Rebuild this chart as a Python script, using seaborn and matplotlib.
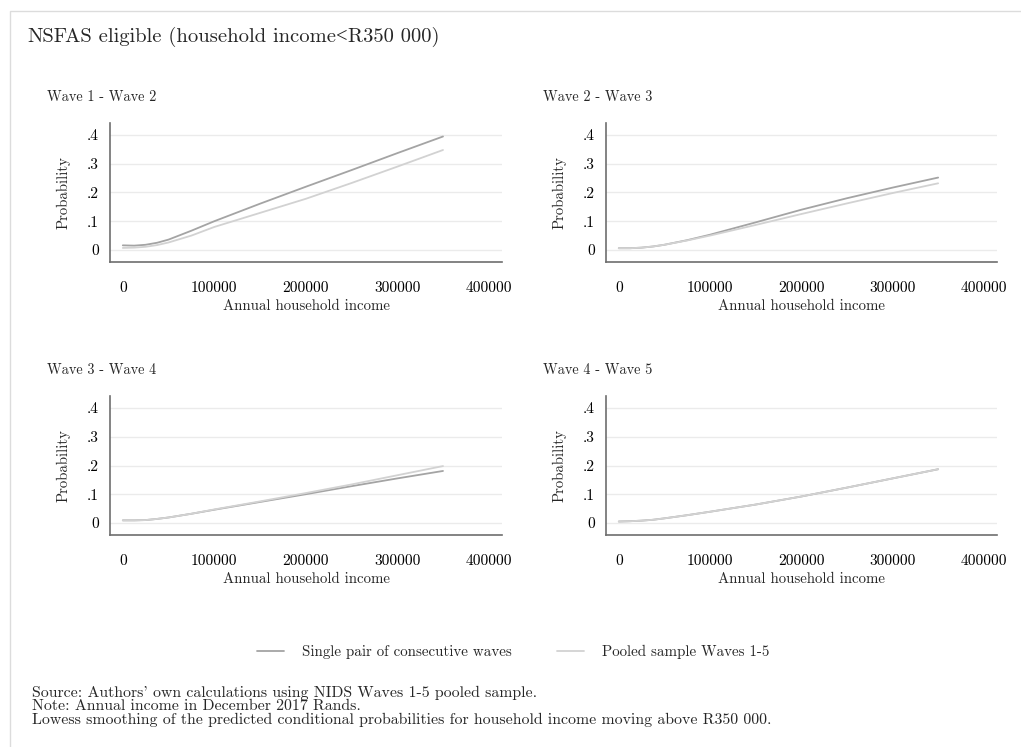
import numpy as np
import pandas as pd
import matplotlib
matplotlib.use("Agg")
import matplotlib.pyplot as plt
import seaborn as sns
from matplotlib.lines import Line2D
from matplotlib.patches import Rectangle

# income grid (Rands) and smoothed probabilities
income = [0, 12500, 25000, 37500, 50000, 75000, 100000, 150000, 200000, 250000, 300000, 350000]

single_w12 = [0.016, 0.015, 0.018, 0.025, 0.036, 0.067, 0.100, 0.161, 0.220, 0.278, 0.337, 0.395]
pooled_w12 = [0.007, 0.008, 0.011, 0.017, 0.026, 0.050, 0.080, 0.129, 0.178, 0.233, 0.290, 0.348]

single_w23 = [0.006, 0.006, 0.008, 0.012, 0.018, 0.034, 0.053, 0.096, 0.140, 0.180, 0.217, 0.252]
pooled_w23 = [0.006, 0.006, 0.008, 0.012, 0.018, 0.033, 0.050, 0.087, 0.125, 0.162, 0.198, 0.232]

single_w34 = [0.009, 0.009, 0.010, 0.014, 0.019, 0.032, 0.046, 0.073, 0.100, 0.128, 0.155, 0.181]
pooled_w34 = [0.009, 0.009, 0.010, 0.014, 0.019, 0.032, 0.047, 0.075, 0.104, 0.134, 0.166, 0.198]

single_w45 = [0.005, 0.006, 0.008, 0.011, 0.016, 0.027, 0.039, 0.064, 0.092, 0.123, 0.155, 0.187]
pooled_w45 = [0.005, 0.006, 0.008, 0.011, 0.016, 0.027, 0.039, 0.064, 0.092, 0.123, 0.155, 0.187]

panel_titles = ["Wave 1 - Wave 2", "Wave 2 - Wave 3", "Wave 3 - Wave 4", "Wave 4 - Wave 5"]
series_names = ["Single pair of consecutive waves", "Pooled sample Waves 1-5"]
yticks = [0, 0.1, 0.2, 0.3, 0.4]
ytick_labels = ["0", ".1", ".2", ".3", ".4"]
xticks = [0, 100000, 200000, 300000, 400000]

rows = []
for title, s, p in zip(panel_titles,
                       [single_w12, single_w23, single_w34, single_w45],
                       [pooled_w12, pooled_w23, pooled_w34, pooled_w45]):
    for x, v in zip(income, s):
        rows.append([title, series_names[0], x, v])
    for x, v in zip(income, p):
        rows.append([title, series_names[1], x, v])
df = pd.DataFrame(rows, columns=["panel", "series", "income", "prob"])

sns.set_style("white")
plt.rcParams["font.family"] = ["cmr10", "DejaVu Serif"]
plt.rcParams["mathtext.fontset"] = "cm"
plt.rcParams["axes.formatter.use_mathtext"] = True

colors = {series_names[0]: "#a4a4a4", series_names[1]: "#d2d2d2"}

fig = plt.figure(figsize=(10.21, 7.47), dpi=100)
W, H = 1021, 747

# light outer frame like the graph region
fig.add_artist(Rectangle((10 / W, -0.01), 1.1, 1 - 11 / H + 0.01, transform=fig.transFigure,
                         fill=False, edgecolor="#dcdcdc", linewidth=1.0))

# axes boxes in pixel coords: left, top, right, bottom
boxes = [(110, 123, 502, 262), (606, 123, 997, 262),
         (110, 396, 502, 535), (606, 396, 997, 535)]

for title, (l, t, r, b) in zip(panel_titles, boxes):
    ax = fig.add_axes([l / W, 1 - b / H, (r - l) / W, (b - t) / H])
    sub = df[df["panel"] == title]
    sns.lineplot(data=sub, x="income", y="prob", hue="series", palette=colors,
                 hue_order=series_names, linewidth=1.3, legend=False, ax=ax)
    ax.set_xlim(-14000, 414500)
    ax.set_ylim(-0.042, 0.442)
    ax.set_yticks(yticks)
    ax.set_yticklabels(ytick_labels)
    ax.set_xticks(xticks)
    ax.set_xticklabels([str(v) for v in xticks])
    ax.yaxis.grid(True, color="#ebebeb", linewidth=1.0)
    ax.set_axisbelow(True)
    for side in ["top", "right"]:
        ax.spines[side].set_visible(False)
    for side in ["left", "bottom"]:
        ax.spines[side].set_color("#6e6e6e")
        ax.spines[side].set_linewidth(1.2)
    ax.tick_params(axis="both", length=0, labelsize=11.2, colors="black")
    ax.tick_params(axis="x", pad=14)
    ax.tick_params(axis="y", pad=8)
    ax.set_xlabel("Annual household income", fontsize=10.7, labelpad=3)
    ax.set_ylabel("Probability", fontsize=10.7, labelpad=12)
    fig.text((l - 63) / W, 1 - (t - 26) / H, title, fontsize=10.3, ha="left", va="center")

# main title, built from pieces so "<" (not in cmr10) comes from a serif font
# and the loose F-A spacing of cmr10 can be tightened
renderer = fig.canvas.get_renderer()
pieces = [("NSF", None, 0), ("AS eligible (household income", None, -2.5),
          ("<", "Liberation Serif", 0.5), ("R350 000)", None, 0.5)]
x_px = 27
for txt, fam, shift in pieces:
    x_px += shift
    kw = {"family": fam} if fam else {}
    t = fig.text(x_px / W, 1 - 37 / H, txt, fontsize=14.8, ha="left", va="center", **kw)
    x_px = t.get_window_extent(renderer).x1

handles = [Line2D([], [], color=colors[n], linewidth=1.3) for n in series_names]
fig.legend(handles, series_names, loc="center", bbox_to_anchor=(513 / W, 1 - 652 / H),
           ncol=2, frameon=False, fontsize=10.8, handlelength=1.8, columnspacing=3.0,
           handletextpad=1.2)

footer_lines = ["Source: Authors' own calculations using NIDS Waves 1-5 pooled sample.",
                "Note: Annual income in December 2017 Rands.",
                "Lowess smoothing of the predicted conditional probabilities for household income moving above R350 000."]
for i, line in enumerate(footer_lines):
    fig.text(32 / W, 1 - (697 + 13.5 * i) / H, line, fontsize=11.4, ha="left", va="baseline")

fig.savefig("out.png", dpi=100)
